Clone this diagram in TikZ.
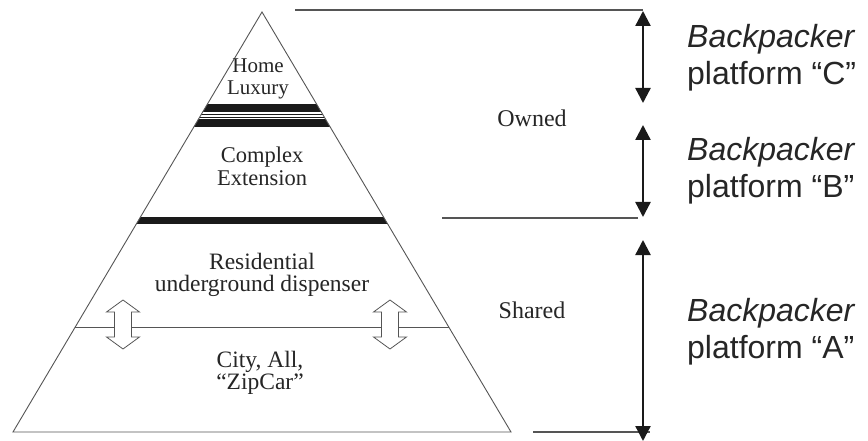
\documentclass[tikz,border=0pt]{standalone}
\usepackage{fontspec}
\setmainfont{Liberation Serif}
\newfontfamily\arialf{Liberation Sans}
\usetikzlibrary{arrows.meta}
\definecolor{edgegray}{HTML}{555555}
\definecolor{barblack}{HTML}{1A1A1A}
\tikzset{
  edge/.style={draw=edgegray, line width=0.9pt},
  rule/.style={draw=edgegray, line width=1.1pt},
  bar/.style={fill=barblack},
  thinbar/.style={draw=barblack, line width=0.9pt},
  dimarrow/.style={draw=barblack, line width=2.3pt, {Triangle[width=15pt,length=15pt]}-{Triangle[width=15pt,length=15pt]}},
  hollow/.style={draw=edgegray, fill=white, line width=0.8pt, line join=miter},
  lvl/.style={align=center, inner sep=0pt, text=black!85},
  side/.style={font=\fontsize{24}{26}\selectfont, inner sep=0pt, text=black!85},
  plat/.style={font=\arialf\fontsize{32}{37}\selectfont, align=left, anchor=west, inner sep=0pt, text=black!85}
}
\begin{document}
\begin{tikzpicture}[x=1pt,y=-1pt]
\useasboundingbox (0,0) rectangle (868,441);
\fill[white] (0,0) rectangle (868,441);
% triangle corners
\coordinate (apex) at (262,12);
\coordinate (bl) at (13,432);
\coordinate (br) at (511,432);
% bars clipped to triangle
\begin{scope}
  \clip (apex) -- (br) -- (bl) -- cycle;
  \fill[bar] (150,104) rectangle (380,112);
  \draw[thinbar] (150,114.3) -- (380,114.3);
  \draw[thinbar] (150,117.2) -- (380,117.2);
  \fill[bar] (150,119.5) rectangle (380,127.5);
  \fill[bar] (100,216.5) rectangle (430,224);
  \draw[edge] (0,327) -- (520,327);
\end{scope}
% triangle outline
\draw[edge, line join=miter] (apex) -- (br) -- (bl) -- cycle;
% hollow double arrows
\foreach \cx in {123,390}{
  \draw[hollow] (\cx,300) -- (\cx+16.5,312) -- (\cx+8.5,312) -- (\cx+8.5,337) -- (\cx+16.5,337)
     -- (\cx,349) -- (\cx-16.5,337) -- (\cx-8.5,337) -- (\cx-8.5,312) -- (\cx-16.5,312) -- cycle;
}
% labels in the pyramid
\node[lvl, font=\fontsize{21}{22}\selectfont] (home) at (258,79) {Home\\Luxury};
\node[lvl, font=\fontsize{22.5}{23}\selectfont] (complex) at (262,166) {Complex\\Extension};
\node[lvl, font=\fontsize{23.5}{22.5}\selectfont] (resid) at (262,275) {Residential\\underground dispenser};
\node[lvl, font=\fontsize{23.5}{22.5}\selectfont] (city) at (260,373) {City, All,\\“ZipCar”};
% side labels
\node[side] (owned) at (532,118) {Owned};
\node[side] (shared) at (532,310) {Shared};
% guide lines
\coordinate (t0) at (295,10);
\coordinate (t1) at (643,10);
\coordinate (m0) at (442,218);
\coordinate (m1) at (638,218);
\coordinate (b0) at (533,432);
\coordinate (b1) at (650,432);
\draw[rule] (t0) -- (t1);
\draw[rule] (m0) -- (m1);
\draw[rule] (b0) -- (b1);
% dimension arrows
\coordinate (c1) at (643,11);
\coordinate (c2) at (643,103);
\coordinate (bb1) at (643,125);
\coordinate (bb2) at (643,217);
\coordinate (a1) at (643,240);
\coordinate (a2) at (643,441);
\draw[dimarrow] (c1) -- (c2);
\draw[dimarrow] (bb1) -- (bb2);
\draw[dimarrow] (a1) -- (a2);
% platform labels
\node[plat] (pc) at (687,58) {\itshape Backpacker\\platform “C”};
\node[plat] (pb) at (687,171) {\itshape Backpacker\\platform “B”};
\node[plat] (pa) at (687,332) {\itshape Backpacker\\platform “A”};
\end{tikzpicture}
\end{document}
